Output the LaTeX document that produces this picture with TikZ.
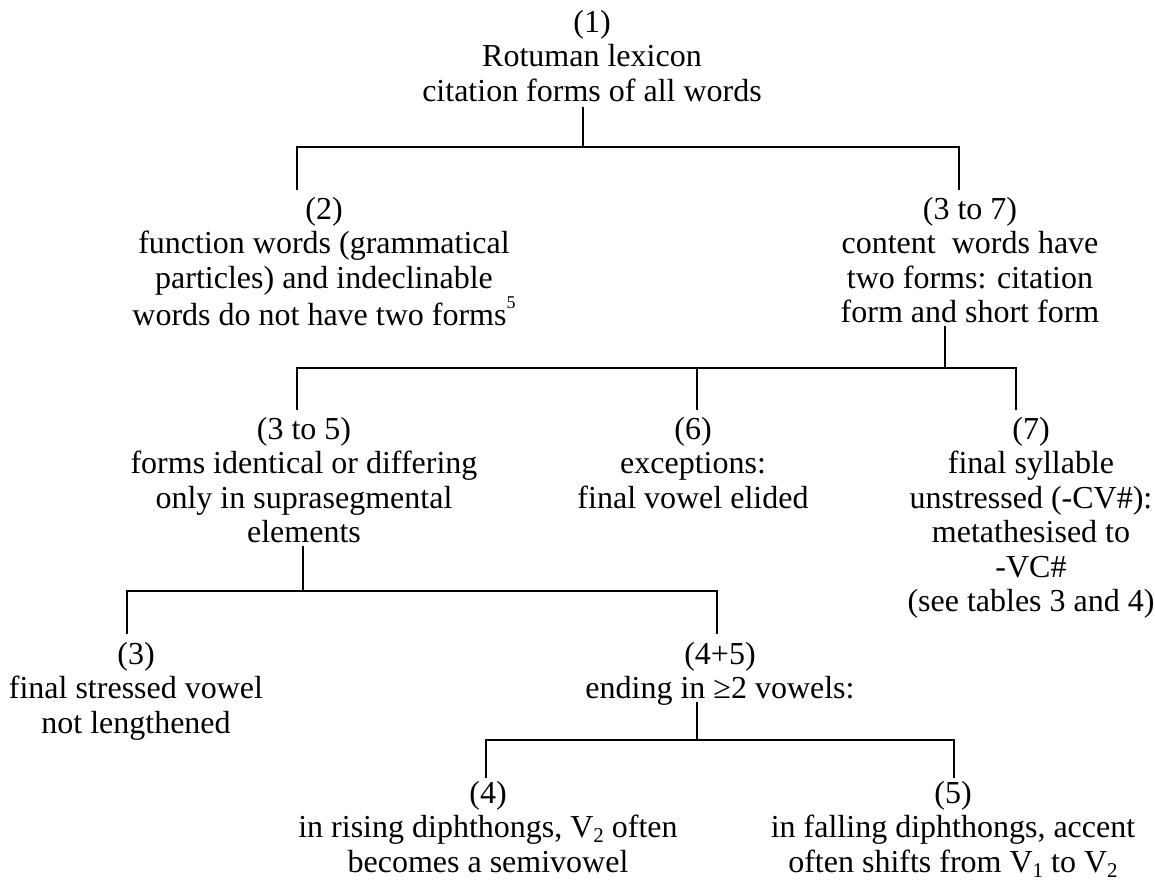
\documentclass[tikz,border=0pt]{standalone}
\usepackage{fontspec}
\setmainfont{Liberation Serif}
\begin{document}
\begin{tikzpicture}[x=1pt,y=-1pt,
  lbl/.style={align=center, anchor=north, inner sep=0pt, font=\fontsize{32}{34.5}\selectfont},
  tree/.style={line width=1.1pt, line cap=rect}]
\useasboundingbox[fill=white] (0,0) rectangle (1155,879);

% nodes
\node[lbl] (n1) at (592,10) {(1)\\Rotuman lexicon\\citation forms of all words};
\node[lbl] (n2) at (324,197) {(2)\\function words (grammatical\\particles) and indeclinable\\words do not have two forms\raisebox{0.55em}{\fontsize{18}{18}\selectfont 5}};
\node[lbl] (n37) at (970,197) {(3 to 7)\\content\ \ words have\\two forms: citation\\form and short form};
\node[lbl] (n35) at (304,417) {(3 to 5)\\forms identical or differing\\only in suprasegmental\\elements};
\node[lbl] (n6) at (693,417) {(6)\\exceptions:\\final vowel elided};
\node[lbl] (n7) at (1031,417) {(7)\\final syllable\\unstressed (-CV\#):\\metathesised to\\-VC\#\\(see tables 3 and 4)};
\node[lbl] (n3) at (136,642) {(3)\\final stressed vowel\\not lengthened};
\node[lbl] (n45) at (720,642) {(4+5)\\ending in ≥2 vowels:};
\node[lbl] (n4) at (488,781) {(4)\\in rising diphthongs, V\raisebox{-0.15em}{\fontsize{21}{21}\selectfont 2} often\\becomes a semivowel};
\node[lbl] (n5) at (953,781) {(5)\\in falling diphthongs, accent\\often shifts from V\raisebox{-0.15em}{\fontsize{21}{21}\selectfont 1} to V\raisebox{-0.15em}{\fontsize{21}{21}\selectfont 2}};

% level 1: (1) -> (2), (3 to 7)
\coordinate (s1) at (583,108);
\coordinate (j1) at (583,147);
\coordinate (d2) at (297,189);
\coordinate (d37) at (959,189);
\draw[tree] (s1) -- (j1);
\draw[tree] (d2) |- (d37 |- j1) -- (d37);

% level 2: (3 to 7) -> (3 to 5), (6), (7)
\coordinate (s2) at (945,327);
\coordinate (j2) at (945,368);
\coordinate (d35) at (297,409);
\coordinate (d6) at (697,409);
\coordinate (d7) at (1016,409);
\draw[tree] (s2) -- (j2);
\draw[tree] (d35) |- (d7 |- j2) -- (d7);
\draw[tree] (d6 |- j2) -- (d6);

% level 3: (3 to 5) -> (3), (4+5)
\coordinate (s3) at (303,547);
\coordinate (j3) at (303,591);
\coordinate (d3) at (127,633);
\coordinate (d45) at (717,633);
\draw[tree] (s3) -- (j3);
\draw[tree] (d3) |- (d45 |- j3) -- (d45);

% level 4: (4+5) -> (4), (5)
\coordinate (s4) at (697,703);
\coordinate (j4) at (697,740);
\coordinate (d4) at (486,777);
\coordinate (d5) at (954,777);
\draw[tree] (s4) -- (j4);
\draw[tree] (d4) |- (d5 |- j4) -- (d5);
\end{tikzpicture}
\end{document}
